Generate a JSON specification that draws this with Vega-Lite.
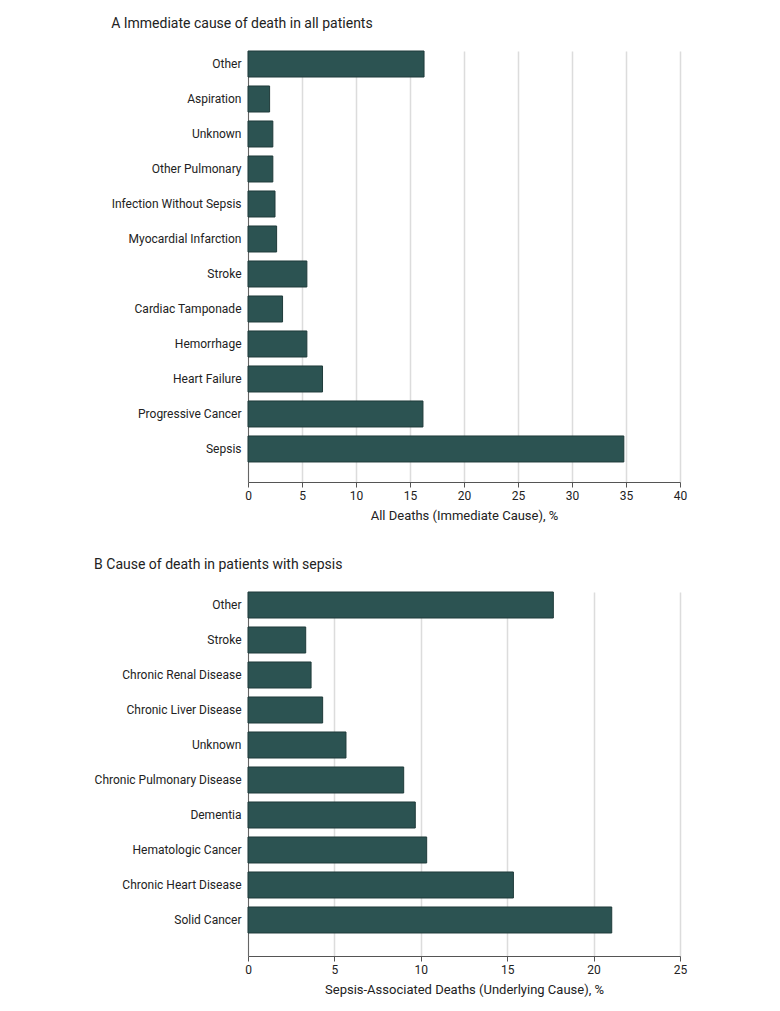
{
  "$schema": "https://vega.github.io/schema/vega-lite/v6.json",
  "padding": {"top": 16, "left": 94, "right": 10, "bottom": 5},
  "background": "white",
  "config": {
    "font": "Roboto",
    "view": {"stroke": null},
    "axis": {"labelFont": "Roboto", "titleFont": "Roboto", "labelColor": "#222", "titleColor": "#222", "labelFontSize": 12, "titleFontSize": 13, "titleFontWeight": "normal"},
    "title": {"font": "Roboto", "fontSize": 14, "fontWeight": "normal", "anchor": "start", "frame": "bounds", "color": "#222"}
  },
  "datasets": {
    "a": [
      {"cause": "Other", "pct": 16.3},
      {"cause": "Aspiration", "pct": 2.0},
      {"cause": "Unknown", "pct": 2.3},
      {"cause": "Other Pulmonary", "pct": 2.3},
      {"cause": "Infection Without Sepsis", "pct": 2.5},
      {"cause": "Myocardial Infarction", "pct": 2.65},
      {"cause": "Stroke", "pct": 5.45},
      {"cause": "Cardiac Tamponade", "pct": 3.2},
      {"cause": "Hemorrhage", "pct": 5.45},
      {"cause": "Heart Failure", "pct": 6.9},
      {"cause": "Progressive Cancer", "pct": 16.2},
      {"cause": "Sepsis", "pct": 34.8}
    ],
    "b": [
      {"cause": "Other", "pct": 17.67},
      {"cause": "Stroke", "pct": 3.34},
      {"cause": "Chronic Renal Disease", "pct": 3.65},
      {"cause": "Chronic Liver Disease", "pct": 4.32},
      {"cause": "Unknown", "pct": 5.67},
      {"cause": "Chronic Pulmonary Disease", "pct": 9.01},
      {"cause": "Dementia", "pct": 9.68},
      {"cause": "Hematologic Cancer", "pct": 10.34},
      {"cause": "Chronic Heart Disease", "pct": 15.36},
      {"cause": "Solid Cancer", "pct": 21.05}
    ]
  },
  "spacing": 35,
  "vconcat": [
    {
      "title": {"text": "A  Immediate cause of death in all patients", "offset": 20},
      "data": {"name": "a"},
      "width": 432,
      "height": 431,
      "mark": {"type": "bar", "fill": "#2c5352", "stroke": "#1f3b3a", "strokeWidth": 1},
      "encoding": {
        "y": {"field": "cause", "type": "nominal", "sort": null, "title": null,
              "scale": {"paddingInner": 0.257, "paddingOuter": 0.286, "align": 0},
              "axis": {"ticks": false, "labelPadding": 7, "domainColor": "#666", "labelLimit": 200}},
        "x": {"field": "pct", "type": "quantitative", "title": "All Deaths (Immediate Cause), %",
              "scale": {"domain": [0, 40], "nice": false},
              "axis": {"values": [0, 5, 10, 15, 20, 25, 30, 35, 40], "grid": true, "gridColor": "#dcdcdc", "gridWidth": 1.5, "domainColor": "#555", "tickColor": "#555", "tickSize": 5, "labelPadding": 3, "titlePadding": 8, "labelFlush": false}}
      }
    },
    {
      "title": {"text": "B  Cause of death in patients with sepsis", "offset": 20},
      "data": {"name": "b"},
      "width": 432,
      "height": 364,
      "mark": {"type": "bar", "fill": "#2c5352", "stroke": "#1f3b3a", "strokeWidth": 1},
      "encoding": {
        "y": {"field": "cause", "type": "nominal", "sort": null, "title": null,
              "scale": {"paddingInner": 0.257, "paddingOuter": 0.3286, "align": 0},
              "axis": {"ticks": false, "labelPadding": 7, "domainColor": "#666", "labelLimit": 200}},
        "x": {"field": "pct", "type": "quantitative", "title": "Sepsis-Associated Deaths (Underlying Cause), %",
              "scale": {"domain": [0, 25], "nice": false},
              "axis": {"values": [0, 5, 10, 15, 20, 25], "grid": true, "gridColor": "#dcdcdc", "gridWidth": 1.5, "domainColor": "#555", "tickColor": "#555", "tickSize": 5, "labelPadding": 3, "titlePadding": 8, "labelFlush": false}}
      }
    }
  ]
}
